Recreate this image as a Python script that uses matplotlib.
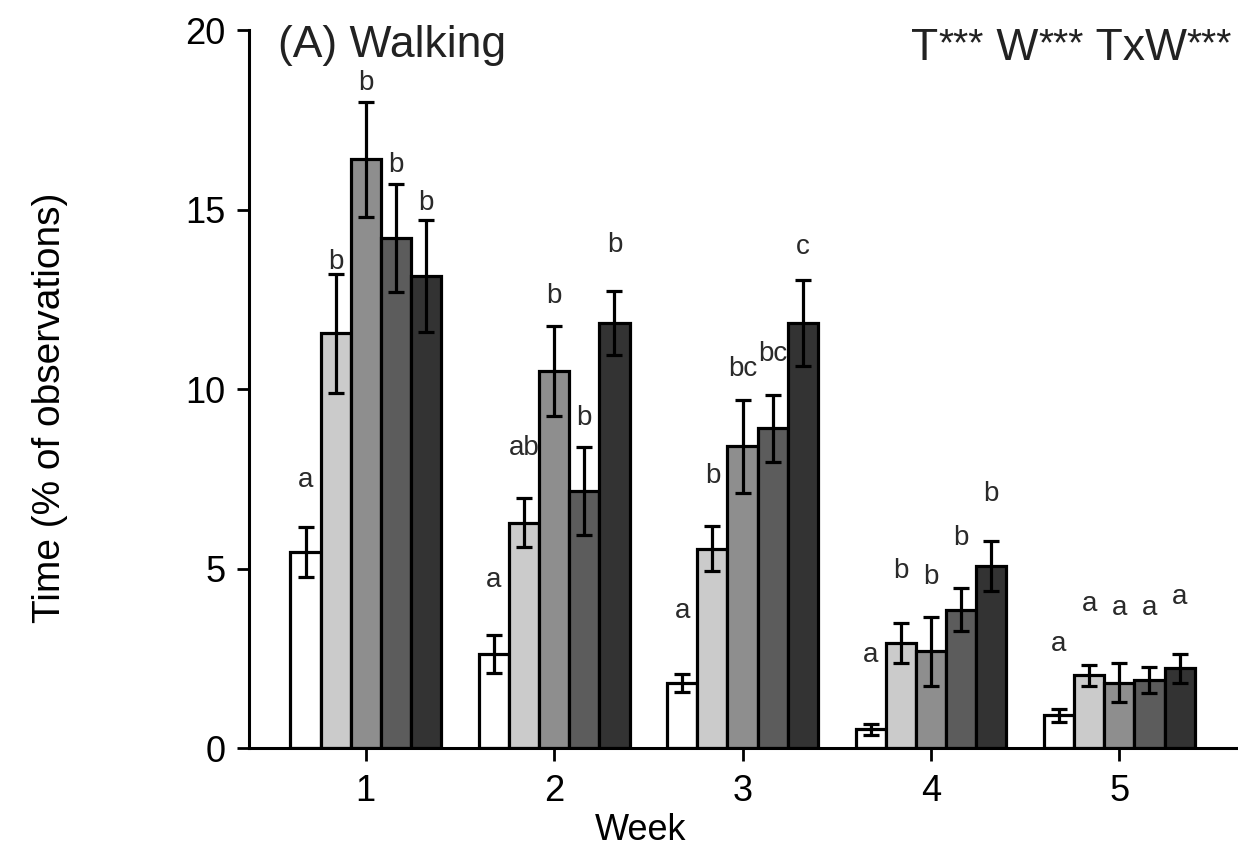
import matplotlib
matplotlib.use("Agg")
import matplotlib.pyplot as plt
import numpy as np

weeks = ["1", "2", "3", "4", "5"]
treatments = ["T1", "T2", "T3", "T4", "T5"]
colors = ["#ffffff", "#cbcbcb", "#8e8e8e", "#5c5c5c", "#333333"]

means = [
    [5.45, 11.55, 16.4, 14.2, 13.15],
    [2.62, 6.27, 10.5, 7.16, 11.84],
    [1.82, 5.55, 8.40, 8.90, 11.84],
    [0.52, 2.92, 2.70, 3.85, 5.07],
    [0.91, 2.02, 1.82, 1.90, 2.22],
]
errors = [
    [0.70, 1.65, 1.60, 1.50, 1.55],
    [0.52, 0.68, 1.25, 1.22, 0.90],
    [0.25, 0.62, 1.30, 0.92, 1.20],
    [0.16, 0.55, 0.96, 0.60, 0.70],
    [0.18, 0.30, 0.55, 0.37, 0.41],
]
letters = [
    ["a", "b", "b", "b", "b"],
    ["a", "ab", "b", "b", "b"],
    ["a", "b", "bc", "bc", "c"],
    ["a", "b", "b", "b", "b"],
    ["a", "a", "a", "a", "a"],
]
letter_y = [
    [7.47, 13.54, 18.52, 16.24, 15.18],
    [4.68, 8.36, 12.60, 9.19, 14.00],
    [3.82, 7.58, 10.56, 10.97, 13.95],
    [2.59, 4.93, 4.76, 5.86, 7.07],
    [2.91, 4.01, 3.90, 3.90, 4.20],
]
effects = ["T", "W", "TxW"]
effect_sig = ["***", "***", "***"]

plt.rcParams["font.family"] = ["Liberation Sans", "DejaVu Sans"]

fig = plt.figure(figsize=(12.38, 8.49), dpi=100)
ax = fig.add_axes([249 / 1238, 1 - 748 / 849, 1 - 249 / 1238, (748 - 30) / 849])

x = np.arange(1, len(weeks) + 1)
width = 0.16
for j in range(len(treatments)):
    xs = x + (j - 2) * width
    vals = [means[i][j] for i in range(len(weeks))]
    errs = [errors[i][j] for i in range(len(weeks))]
    ax.bar(xs, vals, width=width, color=colors[j], edgecolor="black",
           linewidth=2.3, zorder=2)
    ax.errorbar(xs, vals, yerr=errs, fmt="none", ecolor="black",
                elinewidth=2.3, capsize=6, capthick=2.3, zorder=3)
    for i in range(len(weeks)):
        ax.text(xs[i], letter_y[i][j], letters[i][j], ha="center", va="center",
                fontsize=20, color="#2a2a2a")

ax.set_xlim(0.38, 5.63)
ax.set_ylim(0, 20)
ax.set_xticks(x)
ax.set_xticklabels(weeks)
ax.set_yticks([0, 5, 10, 15, 20])
for s in ["top", "right"]:
    ax.spines[s].set_visible(False)
for s in ["left", "bottom"]:
    ax.spines[s].set_linewidth(2.2)
ax.tick_params(axis="both", direction="out", length=9, width=2, labelsize=26,
               colors="black")
ax.tick_params(axis="x", pad=10)
ax.tick_params(axis="y", pad=8)
ax.set_xlabel("Week", fontsize=26)
ax.xaxis.set_label_coords((641 - 249) / 989, -(830 - 748) / 718)
ax.xaxis.label.set_va("center")
ax.set_ylabel("Time (% of observations)", fontsize=28)
ax.yaxis.set_label_coords(-(249 - 50) / 989, (748 - 408) / 718)
ax.yaxis.label.set_va("center")

fig.text(278 / 1238, 1 - 45 / 849, "(A) Walking", ha="left", va="center",
         fontsize=32, color="#222222")

# significance string laid out piece by piece (right-aligned)
fig.canvas.draw()
renderer = fig.canvas.get_renderer()
W, H = fig.bbox.width, fig.bbox.height
pieces = []
for k, (e, s) in enumerate(zip(effects, effect_sig)):
    pieces.append(((" " if k > 0 else "") + e, 32, 0))
    pieces.append((s, 28, 5))
widths = []
for txt, fs, dy in pieces:
    t = fig.text(0, 0, txt, fontsize=fs)
    widths.append(t.get_window_extent(renderer).width)
    t.remove()
xpos = 1232 - sum(widths)
base_y = H - 60
for (txt, fs, dy), w in zip(pieces, widths):
    fig.text(xpos / W, (base_y + dy) / H, txt, fontsize=fs, ha="left",
             va="baseline", color="#222222")
    xpos += w

fig.savefig("out.png", dpi=100)
